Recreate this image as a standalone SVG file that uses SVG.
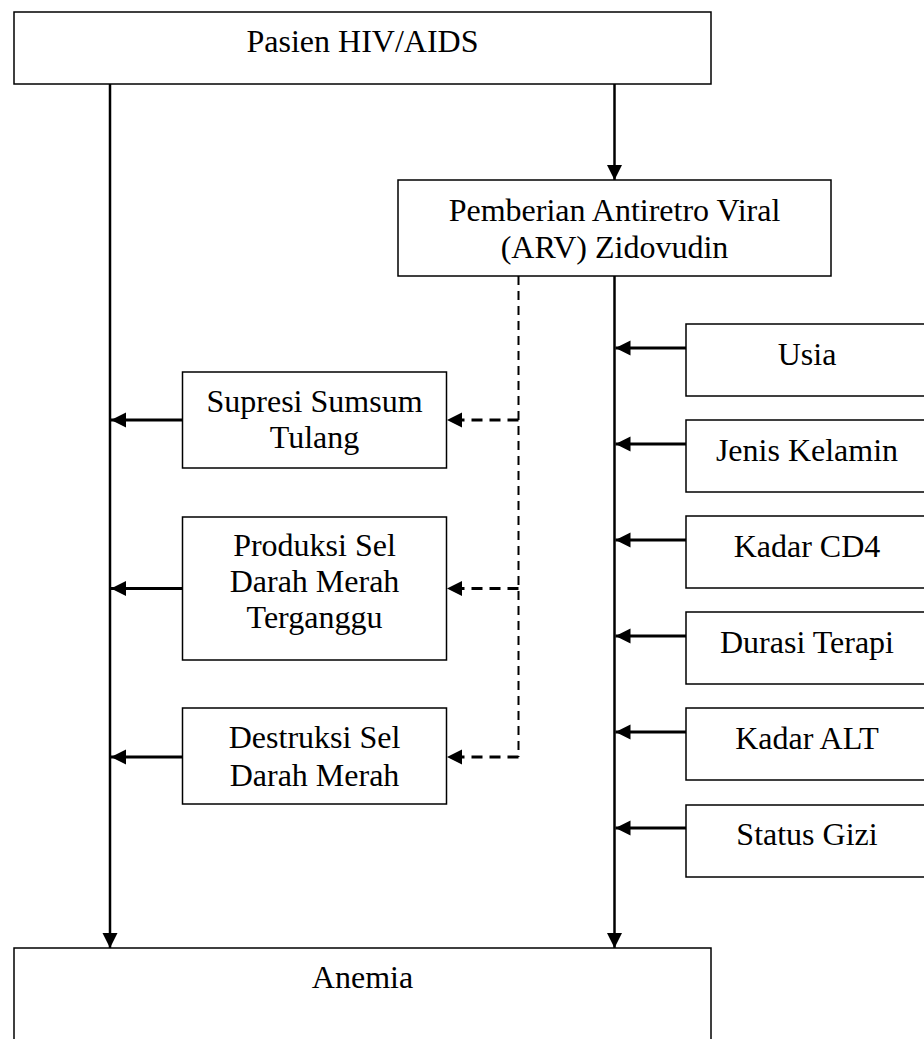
<svg xmlns="http://www.w3.org/2000/svg" width="924" height="1039" viewBox="0 0 924 1039">
<style>
.box{fill:#fff;stroke:#000;stroke-width:1.5}
.t{font-family:"Liberation Serif","Times New Roman",serif;font-size:32px;fill:#000;text-anchor:middle}
.ln{fill:none;stroke:#000;stroke-width:2.5}
.ah{fill:none;stroke:#000;stroke-width:3}
.dv{fill:none;stroke:#000;stroke-width:2;stroke-dasharray:9 6}
.dh{fill:none;stroke:#000;stroke-width:3;stroke-dasharray:11 7}
</style>
<defs>
<marker id="arr" markerUnits="userSpaceOnUse" markerWidth="16" markerHeight="16" refX="15" refY="7.5" orient="auto" viewBox="0 0 16 16">
<path d="M0,0 L15,7.5 L0,15 z" fill="#000" stroke="none"/>
</marker>
</defs>
<rect width="924" height="1039" fill="#fff"/>
<g id="connectors">
<line class="ln" x1="110" y1="84" x2="110" y2="948" marker-end="url(#arr)"/>
<line class="ln" x1="614.5" y1="84" x2="614.5" y2="180" marker-end="url(#arr)"/>
<line class="ln" x1="614.5" y1="276" x2="614.5" y2="948" marker-end="url(#arr)"/>
<line class="dv" x1="518.5" y1="276" x2="518.5" y2="757"/>
<line class="dh" x1="518.5" y1="420" x2="447" y2="420" marker-end="url(#arr)"/>
<line class="dh" x1="518.5" y1="588.5" x2="447" y2="588.5" marker-end="url(#arr)"/>
<line class="dh" x1="518.5" y1="757" x2="447" y2="757" marker-end="url(#arr)"/>
<line class="ah" x1="182.5" y1="420" x2="111" y2="420" marker-end="url(#arr)"/>
<line class="ah" x1="182.5" y1="588.5" x2="111" y2="588.5" marker-end="url(#arr)"/>
<line class="ah" x1="182.5" y1="757" x2="111" y2="757" marker-end="url(#arr)"/>
<line class="ah" x1="686" y1="348" x2="615.5" y2="348" marker-end="url(#arr)"/>
<line class="ah" x1="686" y1="444" x2="615.5" y2="444" marker-end="url(#arr)"/>
<line class="ah" x1="686" y1="540" x2="615.5" y2="540" marker-end="url(#arr)"/>
<line class="ah" x1="686" y1="636" x2="615.5" y2="636" marker-end="url(#arr)"/>
<line class="ah" x1="686" y1="732" x2="615.5" y2="732" marker-end="url(#arr)"/>
<line class="ah" x1="686" y1="828" x2="615.5" y2="828" marker-end="url(#arr)"/>
</g>
<g id="pasien">
<rect class="box" x="14" y="12" width="697" height="72"/>
<text class="t" x="362.5" y="52">Pasien HIV/AIDS</text>
</g>
<g id="pemberian">
<rect class="box" x="398" y="180" width="433" height="96"/>
<text class="t" x="614.5" y="221">Pemberian Antiretro Viral</text>
<text class="t" x="614.5" y="258">(ARV) Zidovudin</text>
</g>
<g id="supresi">
<rect class="box" x="182.5" y="372" width="264" height="96"/>
<text class="t" x="314.5" y="412">Supresi Sumsum</text>
<text class="t" x="314.5" y="448">Tulang</text>
</g>
<g id="produksi">
<rect class="box" x="182.5" y="517" width="264" height="143"/>
<text class="t" x="314.5" y="556">Produksi Sel</text>
<text class="t" x="314.5" y="592">Darah Merah</text>
<text class="t" x="314.5" y="628">Terganggu</text>
</g>
<g id="destruksi">
<rect class="box" x="182.5" y="708" width="264" height="96"/>
<text class="t" x="314.5" y="748">Destruksi Sel</text>
<text class="t" x="314.5" y="786">Darah Merah</text>
</g>
<g id="usia">
<rect class="box" x="686" y="324" width="250" height="72"/>
<text class="t" x="807" y="365">Usia</text>
</g>
<g id="jenis-kelamin">
<rect class="box" x="686" y="420" width="250" height="72"/>
<text class="t" x="807" y="461">Jenis Kelamin</text>
</g>
<g id="kadar-cd4">
<rect class="box" x="686" y="516" width="250" height="72"/>
<text class="t" x="807" y="557">Kadar CD4</text>
</g>
<g id="durasi-terapi">
<rect class="box" x="686" y="612" width="250" height="72"/>
<text class="t" x="807" y="653">Durasi Terapi</text>
</g>
<g id="kadar-alt">
<rect class="box" x="686" y="708" width="250" height="72"/>
<text class="t" x="807" y="749">Kadar ALT</text>
</g>
<g id="status-gizi">
<rect class="box" x="686" y="805" width="250" height="72"/>
<text class="t" x="807" y="845">Status Gizi</text>
</g>
<g id="anemia">
<rect class="box" x="14" y="948" width="697" height="110"/>
<text class="t" x="362.5" y="988">Anemia</text>
</g>
</svg>
